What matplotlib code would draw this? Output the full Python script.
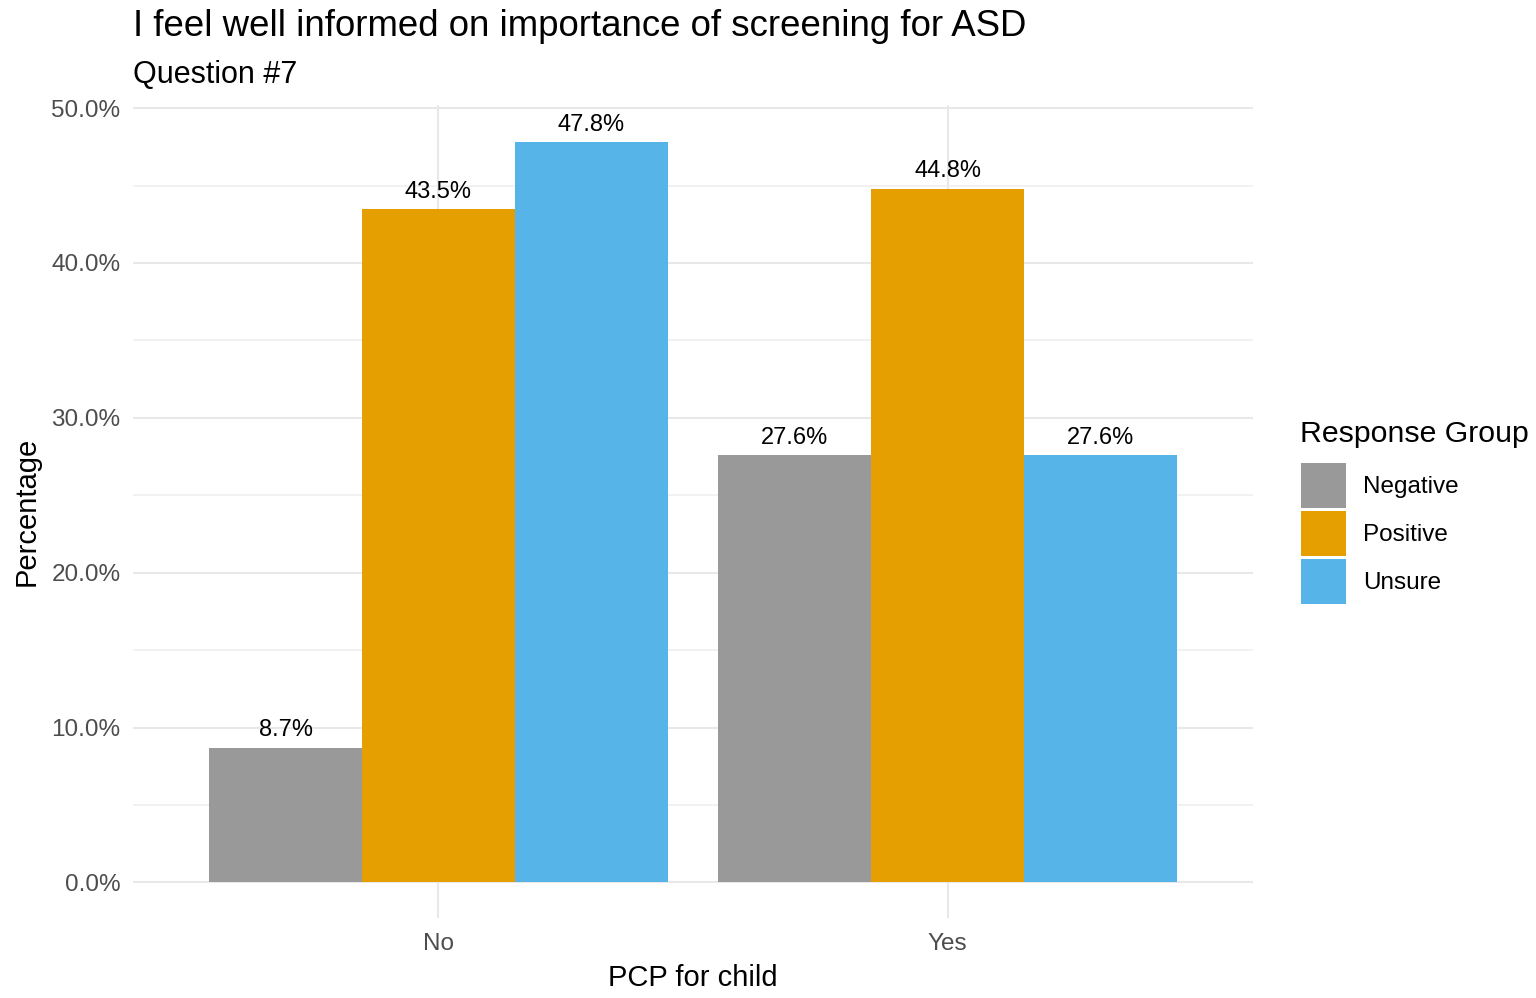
import matplotlib
matplotlib.use('Agg')
import matplotlib.pyplot as plt
import numpy as np
from matplotlib.patches import Patch
from matplotlib.ticker import FuncFormatter

plt.rcParams['font.family'] = ['Liberation Sans', 'DejaVu Sans']

# data
pcp_groups = ['No', 'Yes']
response_groups = ['Negative', 'Positive', 'Unsure']
pct_negative = [8.7, 27.6]
pct_positive = [43.5, 44.8]
pct_unsure = [47.8, 27.6]
colors = ['#999999', '#E69F00', '#56B4E9']

series = [pct_negative, pct_positive, pct_unsure]

fig = plt.figure(figsize=(15.36, 9.98), dpi=100)
ax = fig.add_axes([133 / 1536, 1 - 918 / 998, (1253 - 133) / 1536, (918 - 105) / 998])

x = np.arange(1, len(pcp_groups) + 1)
width = 0.3
for i, (vals, col) in enumerate(zip(series, colors)):
    pos = x + (i - 1) * width
    ax.bar(pos, vals, width=width, color=col, zorder=3)
    for p, v in zip(pos, vals):
        ax.text(p, v + 0.4, f'{v:.1f}%', ha='center', va='bottom',
                fontsize=17, color='black', zorder=4, clip_on=False)

ax.set_xlim(0.4, 2.6)
ax.set_ylim(-2.3, 50.2)
ax.set_xticks(x)
ax.set_xticklabels(pcp_groups)
ax.set_yticks(np.arange(0, 51, 10))
ax.set_yticks(np.arange(5, 50, 10), minor=True)
ax.yaxis.set_major_formatter(FuncFormatter(lambda v, p: f'{v:.1f}%'))

ax.grid(True, which='major', color='#E8E8E8', linewidth=1.5, zorder=0)
ax.grid(True, which='minor', axis='y', color='#EEEEEE', linewidth=1.1, zorder=0)
ax.tick_params(axis='both', which='both', length=0, labelsize=17.5,
               labelcolor='#4D4D4D', pad=9)
ax.tick_params(axis='x', pad=11)
for s in ax.spines.values():
    s.set_visible(False)

ax.set_xlabel('PCP for child', fontsize=21, labelpad=6)
ax.set_ylabel('Percentage', fontsize=21, labelpad=8)

fig.text(133 / 1536, 1 - 27 / 998, 'I feel well informed on importance of screening for ASD',
         fontsize=26.4, va='center', ha='left')
fig.text(133 / 1536, 1 - 75 / 998, 'Question #7', fontsize=22, va='center', ha='left')

# legend title drawn separately so the gap to the keys matches
fig.text(1300 / 1536, 1 - 434 / 998, 'Response Group', fontsize=21.8,
         va='center', ha='left')
handles = [Patch(facecolor=c, label=l) for c, l in zip(colors, response_groups)]
leg = fig.legend(handles=handles, loc='upper left',
                 bbox_to_anchor=(1301 / 1536, 1 - 463 / 998), frameon=False,
                 fontsize=17.5, handlelength=1.85, handleheight=2.47,
                 labelspacing=0.12, handletextpad=0.7, borderaxespad=0,
                 borderpad=0)

fig.savefig('out.png', dpi=100)
